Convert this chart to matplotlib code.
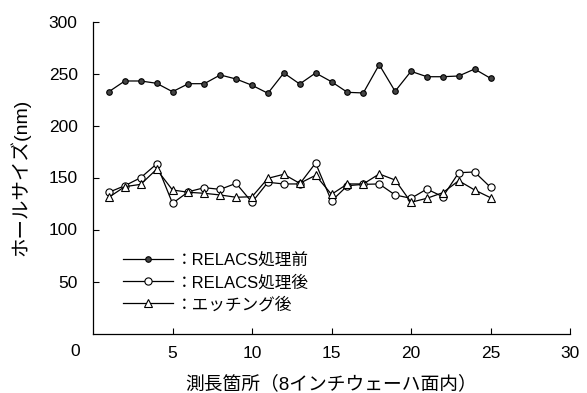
import matplotlib
matplotlib.use("Agg")
import matplotlib.pyplot as plt

plt.rcParams['font.family'] = ['Liberation Sans', 'Noto Sans CJK JP', 'DejaVu Sans']

positions = list(range(1, 26))
before_relacs = [232.5, 242.8, 242.8, 240.6, 232.5, 240.2, 240.2, 248.6, 244.7, 238.7,
                 231.0, 250.5, 239.9, 250.5, 242.1, 231.9, 231.3, 258.5, 232.9, 252.1,
                 246.9, 246.9, 247.6, 254.3, 245.4]
after_relacs = [135.8, 142.1, 149.8, 163.0, 125.2, 136.3, 140.2, 138.6, 144.4, 126.2,
                145.4, 143.8, 143.8, 163.9, 127.4, 142.1, 143.4, 143.8, 133.2, 130.0,
                138.9, 131.5, 154.6, 155.3, 140.6]
after_etching = [131.0, 141.2, 143.4, 157.9, 138.0, 135.8, 134.8, 133.2, 131.0, 131.5,
                 149.2, 153.1, 144.4, 152.1, 133.8, 143.8, 143.8, 153.4, 147.6, 126.2,
                 130.0, 135.4, 146.9, 138.0, 130.6]
labels = ['：RELACS処理前', '：RELACS処理後', '：エッチング後']
xticks = [5, 10, 15, 20, 25, 30]
yticks = [50, 100, 150, 200, 250, 300]
xlabel = '測長箇所（8インチウェーハ面内）'
ylabel = 'ホールサイズ(nm)'

fig = plt.figure(figsize=(5.87, 3.93), dpi=100)
ax = fig.add_axes([93/587, 1-333.5/393, (570-93)/587, (333.5-21.5)/393])

ax.plot(positions, before_relacs, color='black', lw=0.9, marker='o', ms=4,
        mfc='#444444', mec='black', mew=0.8, label=labels[0])
ax.plot(positions, after_relacs, color='black', lw=0.9, marker='o', ms=5.2,
        mfc='white', mec='black', mew=0.8, label=labels[1])
ax.plot(positions, after_etching, color='black', lw=0.9, marker='^', ms=5.8,
        mfc='white', mec='black', mew=0.8, label=labels[2])

ax.set_xlim(0, 30)
ax.set_ylim(0, 300)
ax.set_xticks(xticks)
ax.set_yticks(yticks)
ax.spines['top'].set_visible(False)
ax.spines['right'].set_visible(False)
for s in ('left', 'bottom'):
    ax.spines[s].set_linewidth(0.9)
ax.tick_params(direction='in', length=4, width=0.8, labelsize=12.5, colors='black')
ax.tick_params(axis='x', pad=9)
ax.tick_params(axis='y', pad=11)
ax.annotate('0', xy=(0, 0), xytext=(-18, -18), textcoords='offset pixels',
            ha='center', va='center', fontsize=12.5)

ax.set_xlabel(xlabel, fontsize=13.5, labelpad=10)
ax.set_ylabel(ylabel, fontsize=14, labelpad=13)

leg = ax.legend(loc='upper left', bbox_to_anchor=(123/587, 1-253/393),
                bbox_transform=fig.transFigure, frameon=False, fontsize=12,
                handlelength=3.0, handletextpad=0.2, labelspacing=0.38,
                borderpad=0, borderaxespad=0)

fig.savefig('out.png', dpi=100)
